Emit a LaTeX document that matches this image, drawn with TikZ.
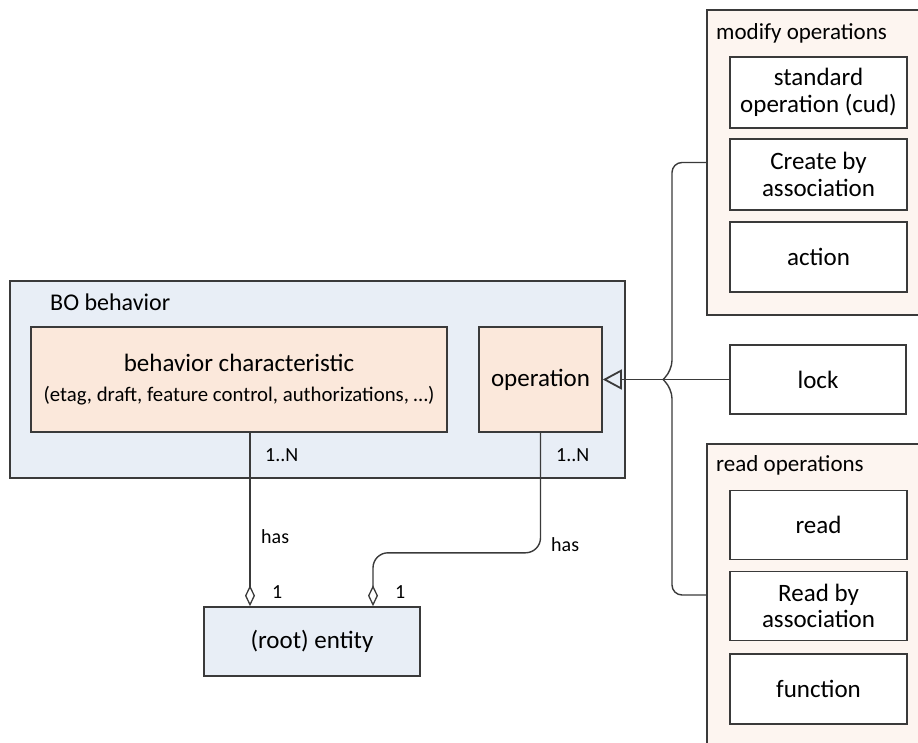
\documentclass[tikz,border=0pt]{standalone}
\usepackage{fontspec}
\setmainfont{Carlito}
\usetikzlibrary{calc}
\usetikzlibrary{arrows.meta,positioning}
\definecolor{boblue}{RGB}{232,238,246}
\definecolor{bopeach}{RGB}{251,232,219}
\definecolor{oppeach}{RGB}{253,245,240}
\definecolor{edge}{RGB}{58,58,58}
\tikzstyle{grp}=[draw=edge, line width=1.6pt, inner sep=0pt]
\tikzstyle{bbox}=[draw=edge, line width=1.6pt, align=center, inner sep=2pt, font=\fontsize{25}{26.5}\selectfont]
\tikzstyle{obox}=[bbox, fill=white, minimum width=177pt, minimum height=70pt]
\tikzstyle{glabel}=[anchor=west, inner sep=0pt, font=\fontsize{23}{26}\selectfont]
\tikzstyle{mult}=[anchor=west, inner sep=0pt, font=\fontsize{20}{22}\selectfont]
\tikzstyle{conn}=[draw=edge, line width=1.4pt]

\begin{document}
\begin{tikzpicture}[x=1pt, y=-1pt]
\useasboundingbox (0,0) rectangle (918,742);
\clip (0,0) rectangle (918,742);
% BO behavior part
\node[grp, fill=boblue, minimum width=615pt, minimum height=197pt] (bo) at (317.5,379.5) {};
\node[glabel, font=\fontsize{24}{26}\selectfont] (bolbl) at (50,302) {BO behavior};
\node[bbox, fill=bopeach, minimum width=416pt, minimum height=105pt] (bchar) at (239,379.5)
  {behavior characteristic\\[4pt]{\fontsize{20.8}{22}\selectfont(etag, draft, feature control, authorizations, \dots)}};
\node[bbox, fill=bopeach, minimum width=123pt, minimum height=105pt] (oper) at (540.5,379.5) {operation};
\node[bbox, fill=boblue, minimum width=216pt, minimum height=69pt] (ent) at (312,641.5) {(root) entity};
% operations
\node[grp, fill=oppeach, minimum width=223pt, minimum height=305pt] (modops) at (818.5,162.5) {};
\node[glabel] (modlbl) at (716,33) {modify operations};
\node[obox, minimum height=71pt] (stdop) at (818.5,92.5) {standard\\operation (cud)};
\node[obox, minimum height=71pt] (cba) at (818.5,174.5) {Create by\\association};
\node[obox] (action) at (818.5,257) {action};
\node[bbox, fill=white, minimum width=176pt, minimum height=69pt] (lock) at (818,379.5) {lock};
\node[grp, fill=oppeach, minimum width=223pt, minimum height=302pt] (readops) at (818.5,595) {};
\node[glabel] (readlbl) at (716,465) {read operations};
\node[obox, minimum height=69pt] (read) at (818.5,525) {read};
\node[obox, minimum height=69pt] (rba) at (818.5,606) {Read by\\association};
\node[obox] (func) at (818.5,689) {function};
% connectors
\coordinate (tip) at (663,379.5);
\draw[conn, -{Triangle[open, length=19pt, width=20pt, line width=1.8pt]}] (lock) -- (oper);
\draw[conn, rounded corners=10pt] (modops.west) -| ($(tip)+(9,-9)$) -- (tip);
\draw[conn, rounded corners=10pt] (tip) -- ($(tip)+(9,9)$) |- (readops.west);
\draw[conn, -{Diamond[open, length=21pt, width=10pt, line width=1.3pt]}] ([xshift=11pt]bchar.south) -- ([xshift=11pt]bchar.south |- ent.north);
\draw[conn, rounded corners=15pt, -{Diamond[open, length=21pt, width=10pt, line width=1.3pt]}] (oper.south) -- ++(0,120) -| ([xshift=61pt]ent.north);
% multiplicities
\node[mult] (m1) at (265,455) {1..N};
\node[mult] (m2) at (556,455) {1..N};
\node[mult] (h1) at (261,537) {has};
\node[mult] (h2) at (551,545) {has};
\node[mult] (o1) at (272,592) {1};
\node[mult] (o2) at (395,592) {1};
\end{tikzpicture}
\end{document}
